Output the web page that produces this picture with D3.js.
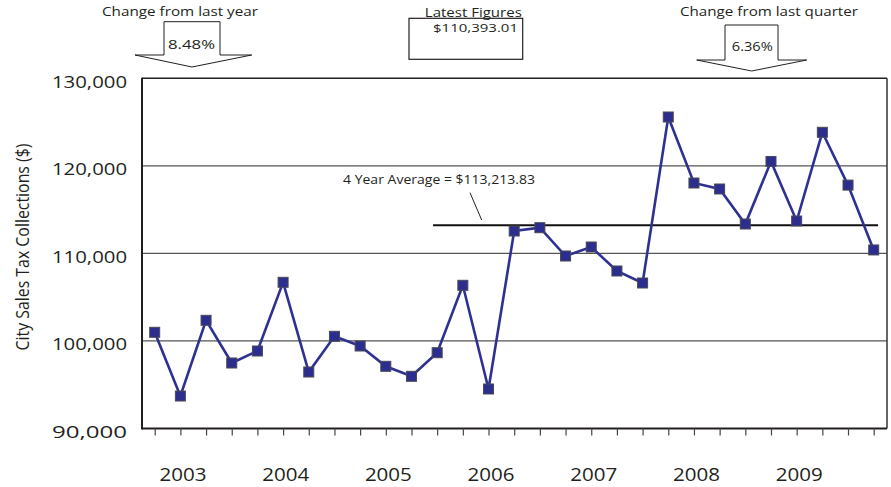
<!DOCTYPE html>
<html><head><meta charset="utf-8">
<script src="https://cdn.jsdelivr.net/npm/d3@7/dist/d3.min.js"></script>
<style>html,body{margin:0;padding:0;background:#fff;}svg{display:block;}text{font-family:"Open Sans",sans-serif;fill:#231f20;}</style>
</head><body>
<svg id="c" width="891" height="487"></svg>
<script>
// ---- data ----
const quarters = ["2003 Q1","2003 Q2","2003 Q3","2003 Q4","2004 Q1","2004 Q2","2004 Q3","2004 Q4",
  "2005 Q1","2005 Q2","2005 Q3","2005 Q4","2006 Q1","2006 Q2","2006 Q3","2006 Q4",
  "2007 Q1","2007 Q2","2007 Q3","2007 Q4","2008 Q1","2008 Q2","2008 Q3","2008 Q4",
  "2009 Q1","2009 Q2","2009 Q3","2009 Q4","2010 Q1"];
const collections = [100988, 93712, 102359, 97481, 98852, 106699, 96453, 100531,
  99423, 97104, 95962, 98658, 106356, 94512, 112558, 112935,
  109703, 110731, 107990, 106619, 125580, 118041, 117356, 113358,
  120500, 113701, 123832, 117800, 110393.01];
const yearLabels = ["2003","2004","2005","2006","2007","2008","2009"];
const yTicks = [90000, 100000, 110000, 120000, 130000];
const fourYearAverage = 113213.83;
const averageSpan = [10.84, 28.17]; // in quarter-index units
const yearChange = "8.48%";
const quarterChange = "6.36%";
const latestFigure = "$110,393.01";

// ---- layout ----
const svg = d3.select("#c");
const x = d3.scaleLinear().domain([0, quarters.length - 1]).range([154.7, 873.7]);
const y = d3.scaleLinear().domain([90000, 130000]).range([428.5, 78.3]);
const left = 142, right = 887;
const fmt = d3.format(",");

// gridlines
svg.append("g").selectAll("line").data(yTicks.slice(1, 4)).join("line")
  .attr("x1", left).attr("x2", right).attr("y1", d => y(d)).attr("y2", d => y(d))
  .attr("stroke", "#555").attr("stroke-width", 1.2);

// frame
svg.append("line").attr("x1", left).attr("x2", right).attr("y1", y(130000)).attr("y2", y(130000)).attr("stroke", "#231f20").attr("stroke-width", 1.5);
svg.append("line").attr("x1", right).attr("x2", right).attr("y1", y(130000)).attr("y2", y(90000)).attr("stroke", "#333").attr("stroke-width", 1.5);
svg.append("line").attr("x1", left).attr("x2", left).attr("y1", y(130000) - 0.5).attr("y2", y(90000) + 1).attr("stroke", "#231f20").attr("stroke-width", 2);

// x axis
const xAxis = d3.axisBottom(x).tickValues(d3.range(quarters.length)).tickSize(7).tickFormat("");
const gx = svg.append("g").attr("transform", `translate(0,${y(90000)})`).call(xAxis);
gx.select(".domain").attr("d", `M${left},0H${right}`).attr("stroke", "#231f20").attr("stroke-width", 2);
gx.selectAll(".tick line").attr("stroke", "#444").attr("stroke-width", 1.2);

// year labels
svg.append("g").selectAll("text").data(yearLabels).join("text")
  .attr("x", (d, i) => x(i * 4 + 1.1)).attr("y", 481)
  .attr("text-anchor", "middle").attr("font-size", 19)
  .attr("textLength", 47).attr("lengthAdjust", "spacingAndGlyphs")
  .text(d => d);

// y tick labels
svg.append("g").selectAll("text").data(yTicks).join("text")
  .attr("x", 127).attr("y", d => y(d) + 9.5)
  .attr("text-anchor", "end").attr("font-size", 16)
  .attr("textLength", 75).attr("lengthAdjust", "spacingAndGlyphs")
  .text(d => fmt(d));

// y title
svg.append("text").attr("transform", "translate(28.5,247) rotate(-90)")
  .attr("text-anchor", "middle").attr("font-size", 17.5)
  .attr("textLength", 207).attr("lengthAdjust", "spacingAndGlyphs")
  .text("City Sales Tax Collections ($)");

// average line
svg.append("line").attr("x1", x(averageSpan[0])).attr("x2", x(averageSpan[1]))
  .attr("y1", y(fourYearAverage)).attr("y2", y(fourYearAverage))
  .attr("stroke", "#111").attr("stroke-width", 2);
svg.append("line").attr("x1", 470).attr("y1", 192.7).attr("x2", 481.7).attr("y2", 220)
  .attr("stroke", "#231f20").attr("stroke-width", 1);
svg.append("text").attr("x", 343).attr("y", 184).attr("font-size", 12)
  .attr("textLength", 192).attr("lengthAdjust", "spacingAndGlyphs")
  .text("4 Year Average = $" + d3.format(",.2f")(fourYearAverage));

// data line
svg.append("path").datum(collections)
  .attr("d", d3.line().x((d, i) => x(i)).y(d => y(d)))
  .attr("fill", "none").attr("stroke", "#2e3192").attr("stroke-width", 2.6)
  .attr("stroke-linejoin", "miter");

// markers
svg.append("g").selectAll("rect").data(collections).join("rect")
  .attr("x", (d, i) => x(i) - 5).attr("y", d => y(d) - 5)
  .attr("width", 10).attr("height", 10)
  .attr("fill", "#2b2e8e").attr("stroke", "#4a4a55").attr("stroke-width", 1);

// block arrows
function blockArrow(bx0, bx1, top, wingY, wx0, wx1, tipX, tipY) {
  const p = `M${bx0},${top}H${bx1}V${wingY}H${wx1}L${tipX},${tipY}L${wx0},${wingY}H${bx0}Z`;
  svg.append("path").attr("d", p).attr("fill", "#fff").attr("stroke", "#231f20").attr("stroke-width", 1);
}
blockArrow(164, 220, 21.7, 55, 135, 251.7, 192, 67);
blockArrow(725, 778, 25, 60, 696.7, 806.7, 751.7, 71);

svg.append("text").attr("x", 180).attr("y", 16).attr("text-anchor", "middle").attr("font-size", 13)
  .attr("textLength", 156).attr("lengthAdjust", "spacingAndGlyphs").text("Change from last year");
svg.append("text").attr("x", 191.5).attr("y", 48.5).attr("text-anchor", "middle").attr("font-size", 13)
  .attr("textLength", 47).attr("lengthAdjust", "spacingAndGlyphs").text(yearChange);

svg.append("text").attr("x", 769).attr("y", 16).attr("text-anchor", "middle").attr("font-size", 13)
  .attr("textLength", 178).attr("lengthAdjust", "spacingAndGlyphs").text("Change from last quarter");
svg.append("text").attr("x", 752.3).attr("y", 50.5).attr("text-anchor", "middle").attr("font-size", 13)
  .attr("textLength", 41).attr("lengthAdjust", "spacingAndGlyphs").text(quarterChange);

// latest figures box
svg.append("rect").attr("x", 409).attr("y", 18.3).attr("width", 113.7).attr("height", 41)
  .attr("fill", "none").attr("stroke", "#231f20").attr("stroke-width", 1.2);
svg.append("text").attr("x", 473.3).attr("y", 17).attr("text-anchor", "middle").attr("font-size", 12.5)
  .attr("textLength", 97).attr("lengthAdjust", "spacingAndGlyphs").text("Latest Figures");
svg.append("text").attr("x", 518).attr("y", 32).attr("text-anchor", "end").attr("font-size", 11.5)
  .attr("textLength", 85).attr("lengthAdjust", "spacingAndGlyphs").text(latestFigure);
</script>
</body></html>
